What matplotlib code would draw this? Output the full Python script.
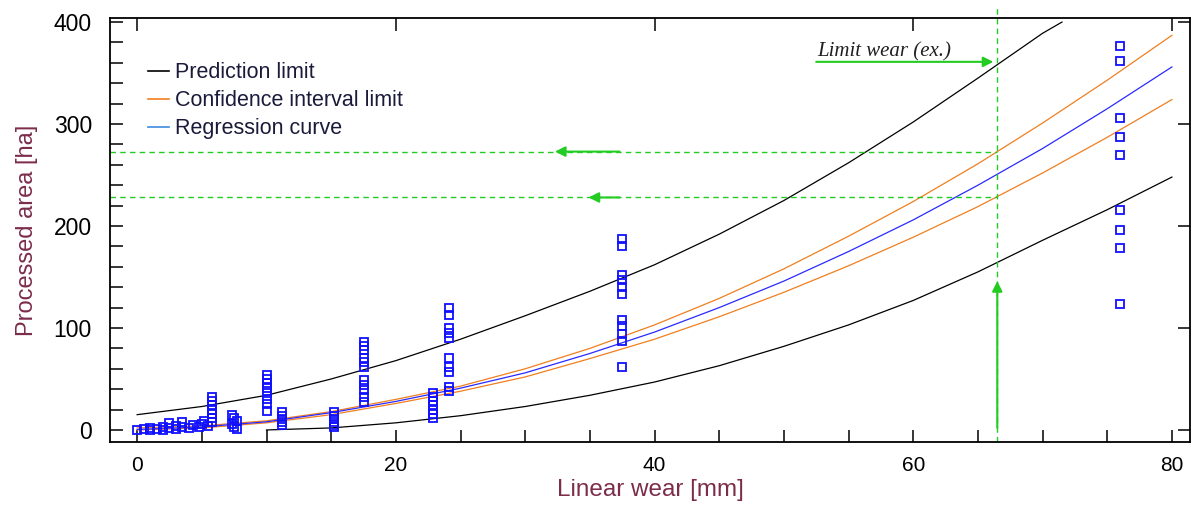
import matplotlib
matplotlib.use("Agg")
import matplotlib.pyplot as plt
from matplotlib.lines import Line2D
from matplotlib.ticker import MultipleLocator
from matplotlib import font_manager

# ---- data ----
curve_x = [0, 5, 10, 15, 20, 25, 30, 35, 40, 45, 50, 55, 60, 65, 70, 75, 80]
regression = [0.5, 3, 8, 17, 28, 41, 56, 75, 96, 120, 146, 175, 206, 240, 276, 315, 356]
conf_upper = [2, 4, 9, 18, 30, 43, 60, 80, 103, 129, 158, 190, 224, 261, 301, 343, 387]
conf_lower = [0, 2, 7, 15, 26, 38, 52, 70, 89, 111, 135, 161, 189, 219, 252, 287, 324]

pred_upper_x = [0, 5, 10, 15, 20, 25, 30, 35, 40, 45, 50, 55, 60, 65, 70, 71.5]
pred_upper = [15, 23, 34, 50, 68, 89, 112, 136, 162, 192, 225, 262, 302, 345, 389, 400]

pred_lower_x = [10, 15, 20, 25, 30, 35, 40, 45, 50, 55, 60, 65, 70, 75, 80]
pred_lower = [0, 2, 7, 14, 23, 34, 47, 63, 82, 103, 127, 155, 186, 216, 248]

obs_x = ([0, 0.5, 1, 1.5, 2, 2.5, 3, 3.5, 4, 4.3, 1, 2, 3, 2.5, 3.5]
         + [4.8, 5, 5.2, 5.5]
         + [5.8] * 7
         + [7.3, 7.5, 7.7, 7.3, 7.5, 7.7]
         + [10] * 8
         + [11.2] * 5
         + [15.2] * 6
         + [17.5] * 11
         + [22.9] * 7
         + [24.1] * 10
         + [37.5] * 11
         + [76] * 9)
obs_y = ([0, 1, 2, 1, 3, 2, 4, 3, 2, 5, 0, 0, 1, 7, 8]
         + [3, 6, 9, 4]
         + [32, 28, 24, 20, 16, 12, 8]
         + [15, 12, 9, 6, 3, 1]
         + [54, 50, 46, 41, 36, 30, 25, 19]
         + [18, 14, 11, 8, 5]
         + [18, 14, 11, 8, 5, 3]
         + [86, 82, 78, 71, 67, 62, 49, 44, 39, 32, 27]
         + [36, 32, 28, 24, 20, 16, 12]
         + [120, 113, 100, 95, 90, 71, 62, 57, 42, 38]
         + [187, 180, 152, 147, 140, 133, 108, 102, 94, 87, 62]
         + [377, 362, 306, 287, 270, 216, 196, 178, 124])

limit_wear = 66.5
area_high = 273
area_low = 228
limit_pred = 361

x_ticks = [0, 20, 40, 60, 80]
y_ticks = [0, 100, 200, 300, 400]
legend_labels = ['Prediction limit', 'Confidence interval limit', 'Regression curve']

# ---- fonts ----
names = {f.name for f in font_manager.fontManager.ttflist}
narrow = 'Liberation Sans Narrow' if 'Liberation Sans Narrow' in names else 'Liberation Sans'
narrow_size = 17 if narrow == 'Liberation Sans Narrow' else 15

plt.rcParams['font.family'] = ['Liberation Sans', 'DejaVu Sans']
fig = plt.figure(figsize=(11.97, 5.12), dpi=100)
ax = fig.add_axes([110/1197, 1 - 442/512, (1190-110)/1197, (442-18)/512])

green = '#22cc22'
orange = '#f07f1f'
blue = '#2a2aff'
label_color = '#7b2d4a'

ax.plot(pred_upper_x, pred_upper, color='black', lw=0.9)
ax.plot(pred_lower_x, pred_lower, color='black', lw=0.9)
ax.plot(curve_x, conf_upper, color=orange, lw=0.9)
ax.plot(curve_x, conf_lower, color=orange, lw=0.9)
ax.plot(curve_x, regression, color=blue, lw=0.9)
ax.plot(obs_x, obs_y, linestyle='none', marker='s', markersize=6,
        markerfacecolor='none', markeredgecolor='#1010ff', markeredgewidth=1.3)

# green dashed guides
ax.plot([limit_wear, limit_wear], [-12, 416], color=green, lw=1, ls=(0, (4, 3)), clip_on=False)
ax.plot([-2.1, limit_wear], [area_high, area_high], color=green, lw=1, ls=(0, (4, 3)))
ax.plot([-2.1, limit_wear], [area_low, area_low], color=green, lw=1, ls=(0, (4, 3)))

arrow = dict(arrowstyle='-|>', color=green, lw=1.5, mutation_scale=15, shrinkA=0, shrinkB=0)
ax.annotate('', xy=(32.3, area_high), xytext=(37.3, area_high), arrowprops=arrow)
ax.annotate('', xy=(34.9, area_low), xytext=(37.3, area_low), arrowprops=arrow)
ax.annotate('', xy=(limit_wear, 146), xytext=(limit_wear, 2), arrowprops=arrow)
ax.annotate('', xy=(66.2, limit_pred), xytext=(52.5, limit_pred), arrowprops=arrow)
ax.text(52.6, 366, 'Limit wear (ex.)', fontsize=15, style='italic',
        family=['Liberation Serif', 'DejaVu Serif'], color='#202020', va='baseline', ha='left')

ax.set_xlim(-2.1, 81.4)
ax.set_ylim(-11.8, 404)
ax.set_xticks(x_ticks)
ax.set_yticks(y_ticks)
ax.xaxis.set_minor_locator(MultipleLocator(5))
ax.yaxis.set_minor_locator(MultipleLocator(20))
ax.tick_params(axis='both', which='both', direction='in', length=9, width=1.1)
ax.tick_params(axis='x', which='major', top=True, pad=10)
ax.tick_params(axis='y', which='major', right=True, pad=13, labelsize=16.5)
for lab in ax.get_xticklabels():
    lab.set_family([narrow, 'DejaVu Sans'])
    lab.set_fontsize(narrow_size)
for s in ax.spines.values():
    s.set_linewidth(1.3)

ax.set_xlabel('Linear wear [mm]', fontsize=narrow_size + 2.5, color=label_color, labelpad=3,
              family=[narrow, 'DejaVu Sans'])
ax.set_ylabel('Processed area [ha]', fontsize=17, color=label_color, labelpad=11)

handles = [Line2D([], [], color='black', lw=1.2),
           Line2D([], [], color=orange, lw=1.2),
           Line2D([], [], color='#3c8ce0', lw=1.2)]
leg = ax.legend(handles, legend_labels, loc='upper left', bbox_to_anchor=(0.035, 0.896),
                frameon=False, fontsize=15.5, borderpad=0, borderaxespad=0,
                handlelength=1.0, handletextpad=0.25, labelspacing=0.33)
for t in leg.get_texts():
    t.set_color('#1a1a3a')

fig.savefig('out.png', dpi=100)
